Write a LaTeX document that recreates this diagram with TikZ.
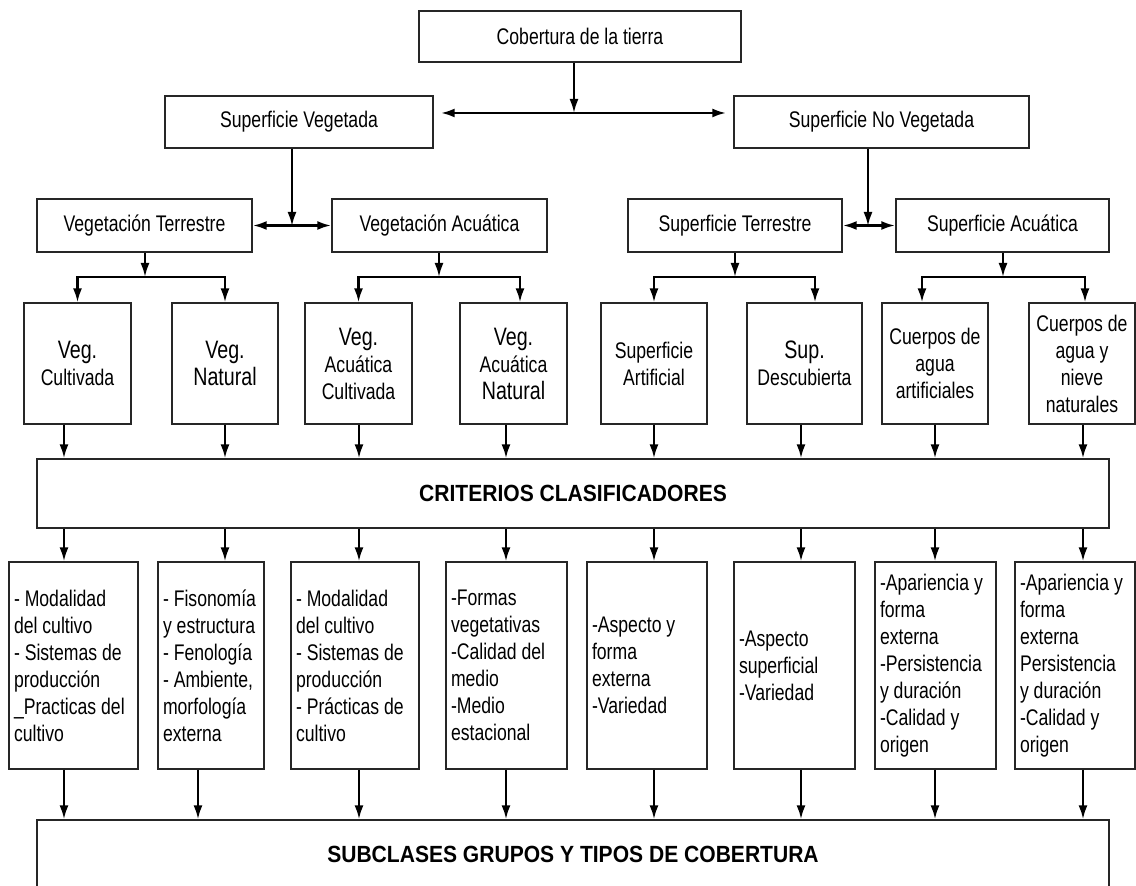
\documentclass[tikz,border=0pt]{standalone}
\usepackage{fontspec}
\setmainfont[FakeStretch=0.78]{Liberation Sans}
\newfontfamily\titulo[FakeStretch=0.9]{Liberation Sans}
\usetikzlibrary{arrows.meta}
\newcommand\grande{\fontsize{12.6}{13.5}\selectfont}

\begin{document}
\begin{tikzpicture}[x=0.5pt,y=-0.5pt,
    caja/.style={draw=black!85, line width=0.7pt, inner sep=0pt, align=center,
      font=\fontsize{11.3}{13.5}\selectfont},
    clase/.style={caja, minimum width=#1, minimum height=60.5pt},
    lista/.style={caja, inner xsep=2.5pt, text width=#1, align=flush left, minimum height=103.5pt},
    titular/.style={caja, minimum width=536pt, font=\titulo\bfseries\fontsize{11.7}{14}\selectfont},
    flecha/.style={-{Latex[length=7pt,width=4.5pt]}, line width=1.1pt},
    doble/.style={{Latex[length=7pt,width=4.5pt]}-{Latex[length=7pt,width=4.5pt]}, line width=1.3pt}]
  \useasboundingbox (0,0) rectangle (1136,886);

  % niveles superiores
  \node[caja, minimum width=161pt, minimum height=25.5pt] (cob) at (580,36.5) {Cobertura de la tierra};
  \node[caja, minimum width=134pt, minimum height=26pt] (supveg) at (299,122) {Superficie Vegetada};
  \node[caja, minimum width=147.5pt, minimum height=26pt] (supnov) at (881.5,122) {Superficie No Vegetada};
  \node[caja, minimum width=107.5pt, minimum height=26.5pt] (vterr) at (144.5,225.5) {Vegetación Terrestre};
  \node[caja, minimum width=107.5pt, minimum height=26.5pt] (vacu) at (439.5,225.5) {Vegetación Acuática};
  \node[caja, minimum width=107pt, minimum height=26.5pt] (sterr) at (735,225.5) {Superficie Terrestre};
  \node[caja, minimum width=106.5pt, minimum height=26.5pt] (sacu) at (1002.5,225.5) {Superficie Acuática};

  % clases
  \node[clase=53.5pt] (c1) at (77.5,363.5) {{\grande Veg.}\\Cultivada};
  \node[clase=53pt] (c2) at (225,363.5) {{\grande Veg.}\\{\grande Natural}};
  \node[clase=53.5pt] (c3) at (358.5,363.5) {{\grande Veg.}\\Acuática\\Cultivada};
  \node[clase=53.5pt] (c4) at (513.5,363.5) {{\grande Veg.}\\Acuática\\{\grande Natural}};
  \node[clase=53pt] (c5) at (654,363.5) {Superficie\\Artificial};
  \node[clase=57.5pt] (c6) at (804.5,363.5) {{\grande Sup.}\\Descubierta};
  \node[clase=53pt] (c7) at (935,363.5) {Cuerpos de\\agua\\artificiales};
  \node[clase=53pt] (c8) at (1082,363.5) {Cuerpos de\\agua y\\nieve\\naturales};

  \node[titular, minimum height=34.5pt] (criterios) at (573,493.5) {CRITERIOS CLASIFICADORES};

  % criterios por clase
  \node[lista=59.5pt] (m1) at (73.5,665.5) {- Modalidad\\del cultivo\\- Sistemas de\\producción\\\_Practicas del\\cultivo};
  \node[lista=48pt] (m2) at (211,665.5) {- Fisonomía\\y estructura\\- Fenología\\- Ambiente,\\morfología\\externa};
  \node[lista=59pt] (m3) at (355,665.5) {- Modalidad\\del cultivo\\- Sistemas de\\producción\\- Prácticas de\\cultivo};
  \node[lista=55.5pt] (m4) at (506.5,665.5) {-Formas\\vegetativas\\-Calidad del\\medio\\-Medio\\estacional};
  \node[lista=55pt] (m5) at (647,665.5) {-Aspecto y\\forma\\externa\\-Variedad};
  \node[lista=55.5pt] (m6) at (794.5,665.5) {-Aspecto\\superficial\\-Variedad};
  \node[lista=55.5pt] (m7) at (935.5,665.5) {-Apariencia y\\forma\\externa\\-Persistencia\\y duración\\-Calidad y\\origen};
  \node[lista=55pt] (m8) at (1075,665.5) {-Apariencia y\\forma\\externa\\Persistencia\\y duración\\-Calidad y\\origen};

  \node[titular, minimum height=34pt] (subclases) at (573,854) {SUBCLASES GRUPOS Y TIPOS DE COBERTURA};

  % conectores
  \coordinate (bcob) at (574,113);
  \draw[flecha] (cob.south -| bcob) -- (bcob);
  \draw[doble, shorten <=3.5pt, shorten >=3.5pt] (supveg.east |- bcob) -- (supnov.west |- bcob);
  \coordinate (bveg) at (292,226);
  \coordinate (bnov) at (868,226);
  \draw[flecha] (supveg.south -| bveg) -- (bveg);
  \draw[flecha] (supnov.south -| bnov) -- (bnov);
  \draw[doble] (vterr) -- (vacu);
  \draw[doble] (sterr) -- (sacu);

  \coordinate (bvt) at (145,277);
  \coordinate (bva) at (439,277);
  \coordinate (bst) at (735,277);
  \coordinate (bsa) at (1003,277);
  \draw[flecha] (vterr.south -| bvt) -- (bvt);
  \draw[flecha] (vacu.south -| bva) -- (bva);
  \draw[flecha] (sterr.south -| bst) -- (bst);
  \draw[flecha] (sacu.south -| bsa) -- (bsa);
  \draw[flecha] (bvt) -| (c1.north);
  \draw[flecha] (bvt) -| (c2.north);
  \draw[flecha] (bva) -| (c3.north);
  \draw[flecha] (bva) -| ([xshift=3.25pt]c4.north);
  \draw[flecha] (bst) -| (c5.north);
  \draw[flecha] (bst) -| ([xshift=5.25pt]c6.north);
  \draw[flecha] (bsa) -| ([xshift=-6.5pt]c7.north);
  \draw[flecha] (bsa) -| ([xshift=1.5pt]c8.north);

  \foreach \i/\xa/\xb in {1/64/64,2/225/198,3/359/359,4/506/506,5/654/654,6/801/801,7/935/935,8/1083/1083}{
    \coordinate (ka\i) at (\xa,0);
    \coordinate (kb\i) at (\xb,0);
    \draw[flecha] (c\i.south -| ka\i) -- (criterios.north -| ka\i);
    \draw[flecha] (criterios.south -| ka\i) -- (m\i.north -| ka\i);
    \draw[flecha] (m\i.south -| kb\i) -- (subclases.north -| kb\i);
  }
\end{tikzpicture}
\end{document}
